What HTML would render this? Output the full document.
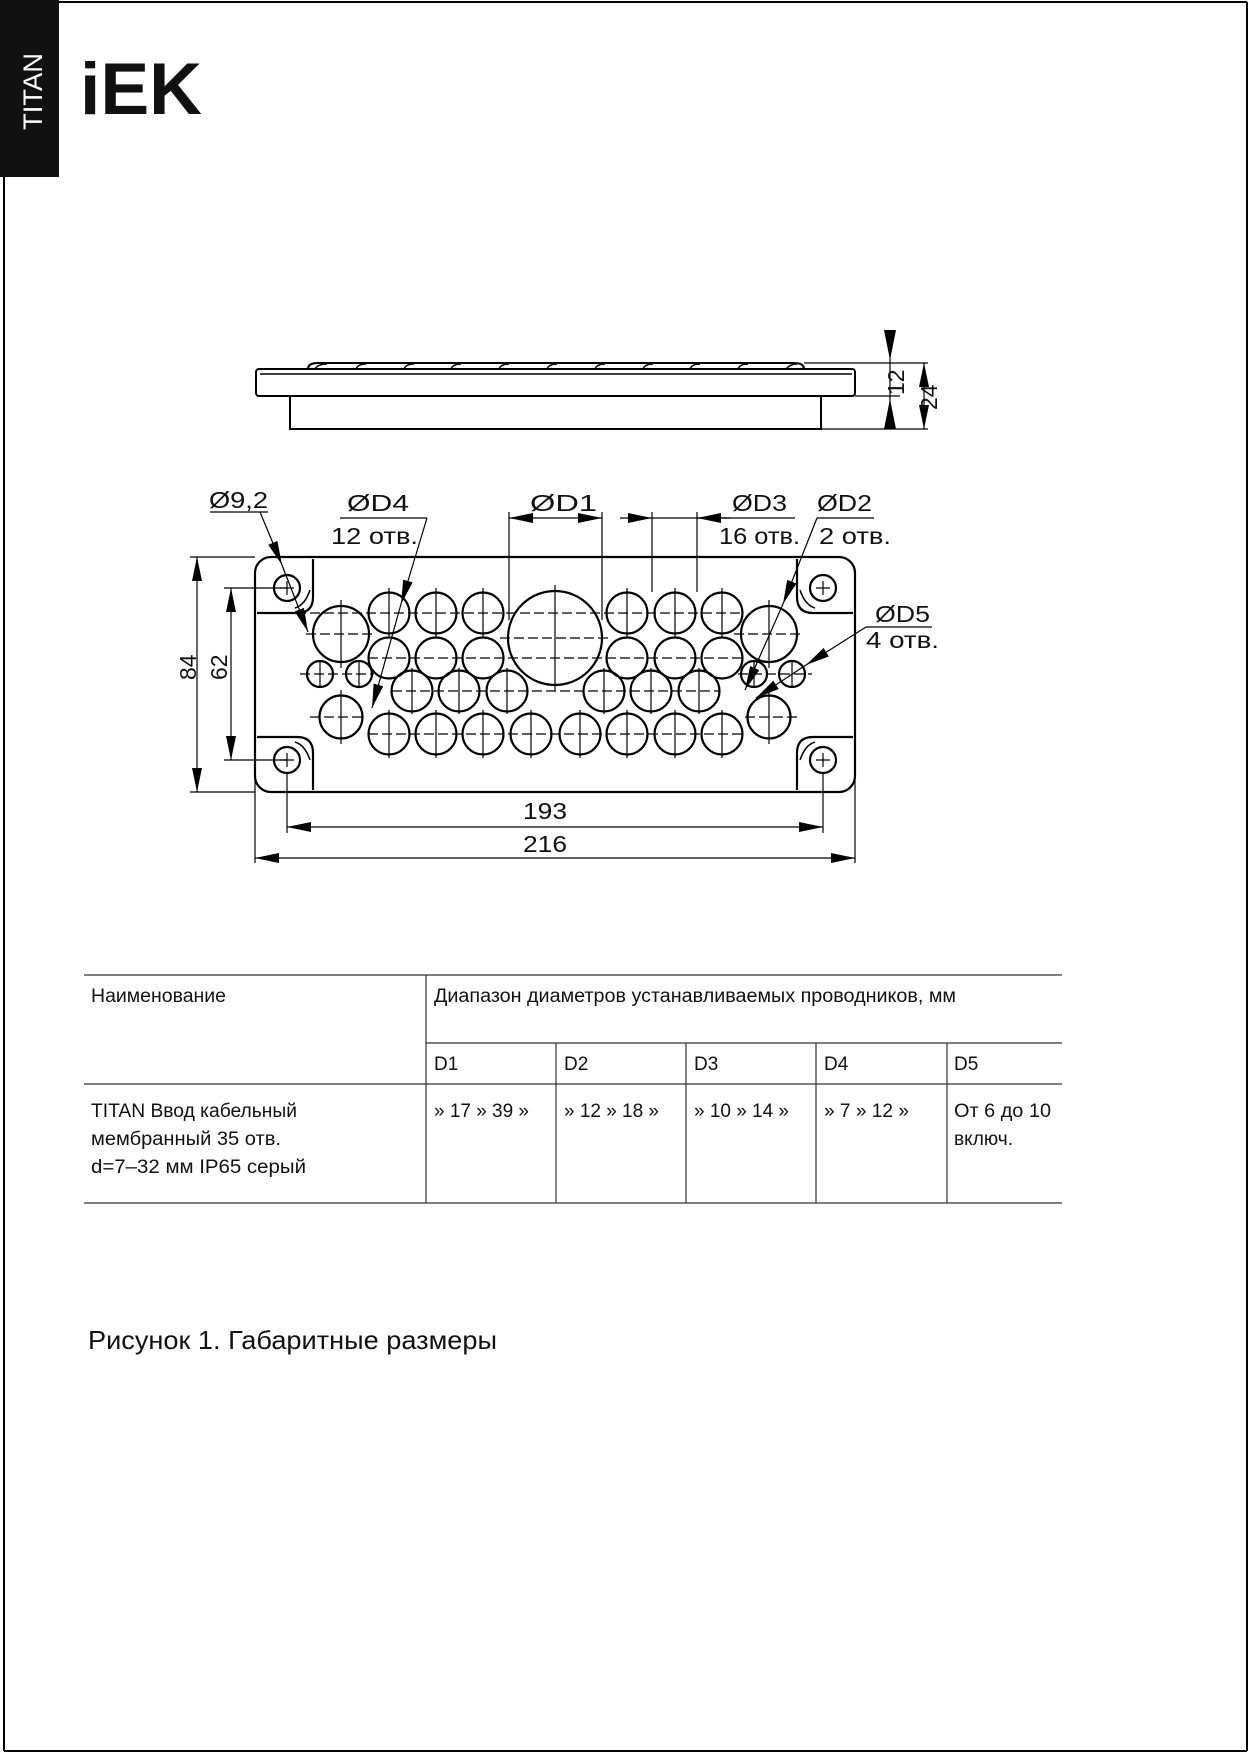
<!DOCTYPE html>
<html><head><meta charset="utf-8">
<style>
html,body{margin:0;padding:0;background:#fff}
svg{display:block}
text{font-family:"Liberation Sans",sans-serif;fill:#111}
</style></head>
<body>
<svg width="1249" height="1754" viewBox="0 0 1249 1754" xmlns="http://www.w3.org/2000/svg">
<defs>
<marker id="a" viewBox="0 0 24 10" refX="24" refY="5" markerWidth="24" markerHeight="10" markerUnits="userSpaceOnUse" orient="auto"><path d="M0,0 L24,5 L0,10 Z" fill="#000"/></marker>
<marker id="as" viewBox="0 0 24 10" refX="0" refY="5" markerWidth="24" markerHeight="10" markerUnits="userSpaceOnUse" orient="auto"><path d="M24,0 L0,5 L24,10 Z" fill="#000"/></marker>
</defs>
<rect x="0" y="0" width="59" height="177" fill="#111"/>
<text transform="translate(42,130) rotate(-90)" font-size="27" style="fill:#fff" textLength="77" lengthAdjust="spacingAndGlyphs">TITAN</text>
<line x1="59" y1="2" x2="1247" y2="2" stroke="#000" stroke-width="2"/>
<line x1="1247" y1="2" x2="1247" y2="1751" stroke="#000" stroke-width="2"/>
<line x1="4" y1="177" x2="4" y2="1751" stroke="#000" stroke-width="2"/>
<line x1="4" y1="1751" x2="1247" y2="1751" stroke="#000" stroke-width="2"/>
<text x="80" y="114" font-size="73" font-weight="bold" textLength="122" lengthAdjust="spacingAndGlyphs">iEK</text>

<g fill="none" stroke="#000" stroke-width="2">
<rect x="256" y="369" width="599" height="27" rx="3"/>
<line x1="260" y1="374" x2="852" y2="374" stroke-width="1.5"/>
<rect x="290" y="396" width="531" height="33"/>
<path d="M308 369 Q308 363 318 363 L794 363 Q804 363 804 369"/>
<g stroke-width="1.5">
<path d="M315 369 Q318 364 327 364"/><path d="M356 369 Q358 364 366 364"/><path d="M404 369 Q406 364 414 364"/><path d="M451 369 Q453 364 461 364"/><path d="M499 369 Q501 364 509 364"/><path d="M547 369 Q549 364 557 364"/><path d="M595 369 Q597 364 605 364"/><path d="M643 369 Q645 364 653 364"/><path d="M690 369 Q692 364 700 364"/><path d="M738 369 Q740 364 748 364"/><path d="M786 369 Q790 364 797 364"/>
</g>
<g stroke-width="1.2">
<line x1="804" y1="363" x2="928" y2="363"/><line x1="855" y1="396" x2="900" y2="396"/><line x1="821" y1="429" x2="928" y2="429"/>
<line x1="890" y1="330" x2="890" y2="429"/>
<line x1="924" y1="363" x2="924" y2="429" marker-start="url(#as)" marker-end="url(#a)"/>
</g>
<path d="M884 330 L896 330 L890 360 Z" fill="#000" stroke="none"/>
<path d="M884 429 L896 429 L890 399 Z" fill="#000" stroke="none"/>
</g>
<text transform="translate(904,395) rotate(-90)" font-size="23">12</text>
<text transform="translate(937,410) rotate(-90)" font-size="23">24</text>

<g fill="none" stroke="#000" stroke-width="2.2">
<rect x="255" y="557" width="600" height="235" rx="16"/>
<path d="M257 613 L297 613 Q313 613 313 597 L313 559"/>
<path d="M257 737 L297 737 Q313 737 313 753 L313 790"/>
<path d="M853 613 L813 613 Q797 613 797 597 L797 559"/>
<path d="M853 737 L813 737 Q797 737 797 753 L797 790"/>
<path d="M310 590 Q305 605 295 608" stroke-width="1.5"/>
<path d="M310 760 Q305 745 295 742" stroke-width="1.5"/>
<path d="M800 590 Q805 605 815 608" stroke-width="1.5"/>
<path d="M800 760 Q805 745 815 742" stroke-width="1.5"/>
</g>
<g fill="none" stroke="#000" stroke-width="2.2">
<circle cx="287" cy="588" r="13"/><circle cx="287" cy="760" r="13"/><circle cx="823" cy="588" r="13"/><circle cx="823" cy="760" r="13"/>
<circle cx="555" cy="638" r="47"/>
<circle cx="341" cy="634" r="28"/><circle cx="769" cy="634" r="28"/>
<circle cx="341" cy="717" r="21.5"/><circle cx="769" cy="717" r="21.5"/>
<circle cx="320" cy="674" r="13"/><circle cx="359" cy="674" r="13"/><circle cx="754" cy="674" r="13"/><circle cx="792" cy="674" r="13"/>
<circle cx="389" cy="613" r="20.5"/><circle cx="436" cy="613" r="20.5"/><circle cx="483" cy="613" r="20.5"/><circle cx="627" cy="613" r="20.5"/><circle cx="675" cy="613" r="20.5"/><circle cx="722" cy="613" r="20.5"/>
<circle cx="389" cy="658" r="20.5"/><circle cx="436" cy="658" r="20.5"/><circle cx="483" cy="658" r="20.5"/><circle cx="627" cy="658" r="20.5"/><circle cx="675" cy="658" r="20.5"/><circle cx="722" cy="658" r="20.5"/>
<circle cx="412" cy="691" r="20.5"/><circle cx="459" cy="691" r="20.5"/><circle cx="507" cy="691" r="20.5"/><circle cx="604" cy="691" r="20.5"/><circle cx="651" cy="691" r="20.5"/><circle cx="699" cy="691" r="20.5"/>
<circle cx="389" cy="734" r="20.5"/><circle cx="436" cy="734" r="20.5"/><circle cx="483" cy="734" r="20.5"/><circle cx="531" cy="734" r="20.5"/><circle cx="580" cy="734" r="20.5"/><circle cx="627" cy="734" r="20.5"/><circle cx="675" cy="734" r="20.5"/><circle cx="722" cy="734" r="20.5"/>
</g>
<g stroke="#000" stroke-width="1.2" stroke-dasharray="10,4">
<line x1="268" y1="613" x2="742" y2="613"/>
<line x1="306" y1="634" x2="376" y2="634"/><line x1="734" y1="634" x2="804" y2="634"/>
<line x1="368" y1="658" x2="742" y2="658"/>
<line x1="300" y1="674" x2="374" y2="674"/><line x1="738" y1="674" x2="812" y2="674"/>
<line x1="392" y1="691" x2="720" y2="691"/>
<line x1="310" y1="717" x2="365" y2="717"/><line x1="745" y1="717" x2="800" y2="717"/>
<line x1="368" y1="734" x2="742" y2="734"/>
<line x1="500" y1="638" x2="612" y2="638"/>
</g>
<g stroke="#000" stroke-width="1.2">
<path d="M280 588h14M287 581v14M280 760h14M287 753v14M816 588h14M823 581v14M816 760h14M823 753v14"/>
<path d="M389 588v50M436 588v50M483 588v50M627 588v50M675 588v50M722 588v50"/>
<path d="M389 710v48M436 710v48M483 710v48M531 710v48M580 710v48M627 710v48M675 710v48M722 710v48"/>
<path d="M412 668v46M459 668v46M507 668v46M604 668v46M651 668v46M699 668v46"/>
<path d="M555 585v106M341 600v68M769 600v68M341 690v54M769 690v54M320 660v28M359 660v28M754 660v28M792 660v28"/>
</g>
<g stroke="#000" stroke-width="1.2" fill="none">
<line x1="190" y1="557" x2="255" y2="557"/><line x1="190" y1="792" x2="255" y2="792"/>
<line x1="197" y1="557" x2="197" y2="792" marker-start="url(#as)" marker-end="url(#a)"/>
<line x1="224" y1="588" x2="287" y2="588"/><line x1="224" y1="760" x2="287" y2="760"/>
<line x1="231" y1="588" x2="231" y2="760" marker-start="url(#as)" marker-end="url(#a)"/>
<line x1="287" y1="773" x2="287" y2="833"/><line x1="823" y1="773" x2="823" y2="833"/>
<line x1="287" y1="827" x2="823" y2="827" marker-start="url(#as)" marker-end="url(#a)"/>
<line x1="255" y1="780" x2="255" y2="863"/><line x1="855" y1="780" x2="855" y2="863"/>
<line x1="255" y1="858" x2="855" y2="858" marker-start="url(#as)" marker-end="url(#a)"/>
<line x1="509" y1="512" x2="509" y2="620"/><line x1="602" y1="512" x2="602" y2="620"/>
<line x1="509" y1="518" x2="540" y2="518" marker-start="url(#as)"/>
<line x1="570" y1="518" x2="602" y2="518" marker-end="url(#a)"/>
<line x1="540" y1="518" x2="570" y2="518"/>
<line x1="652" y1="512" x2="652" y2="592"/><line x1="697" y1="512" x2="697" y2="592"/>
<line x1="620" y1="518" x2="652" y2="518" marker-end="url(#a)"/>
<line x1="730" y1="518" x2="697" y2="518" marker-end="url(#a)"/>
<line x1="652" y1="518" x2="795" y2="518"/>
<line x1="210" y1="512" x2="268" y2="512"/>
<line x1="260" y1="512" x2="282" y2="565" marker-end="url(#a)"/>
<line x1="282" y1="565" x2="308" y2="632" marker-end="url(#a)"/>
<line x1="340" y1="518" x2="427" y2="518"/>
<line x1="427" y1="518" x2="401" y2="604" marker-end="url(#a)"/>
<line x1="401" y1="604" x2="372" y2="708" marker-end="url(#a)"/>
<line x1="817" y1="518" x2="874" y2="518"/>
<line x1="817" y1="518" x2="783" y2="604" marker-end="url(#a)"/>
<line x1="783" y1="604" x2="745" y2="690" marker-end="url(#a)"/>
<line x1="866" y1="627" x2="932" y2="627"/>
<line x1="866" y1="627" x2="806" y2="665" marker-end="url(#a)"/>
<line x1="806" y1="665" x2="756" y2="698" marker-end="url(#a)"/>
</g>
<g font-size="23">
<text x="209" y="508" textLength="59" lengthAdjust="spacingAndGlyphs">Ø9,2</text>
<text x="347" y="511" textLength="62" lengthAdjust="spacingAndGlyphs">ØD4</text>
<text x="331" y="544" textLength="87" lengthAdjust="spacingAndGlyphs">12 отв.</text>
<text x="530" y="511" textLength="67" lengthAdjust="spacingAndGlyphs">ØD1</text>
<text x="732" y="511" textLength="55" lengthAdjust="spacingAndGlyphs">ØD3</text>
<text x="817" y="511" textLength="55" lengthAdjust="spacingAndGlyphs">ØD2</text>
<text x="719" y="544" textLength="81" lengthAdjust="spacingAndGlyphs">16 отв.</text>
<text x="819" y="544" textLength="72" lengthAdjust="spacingAndGlyphs">2 отв.</text>
<text x="875" y="622" textLength="55" lengthAdjust="spacingAndGlyphs">ØD5</text>
<text x="866" y="648" textLength="73" lengthAdjust="spacingAndGlyphs">4 отв.</text>
<text x="523" y="819" textLength="44" lengthAdjust="spacingAndGlyphs">193</text>
<text x="523" y="852" textLength="44" lengthAdjust="spacingAndGlyphs">216</text>
<text transform="translate(196,680) rotate(-90)">84</text>
<text transform="translate(227,680) rotate(-90)">62</text>
</g>

<g stroke="#333" stroke-width="1.2">
<line x1="84" y1="975" x2="1062" y2="975"/>
<line x1="426" y1="1043" x2="1062" y2="1043"/>
<line x1="84" y1="1084" x2="1062" y2="1084"/>
<line x1="84" y1="1203" x2="1062" y2="1203"/>
<line x1="426" y1="975" x2="426" y2="1203"/>
<line x1="556" y1="1043" x2="556" y2="1203"/><line x1="686" y1="1043" x2="686" y2="1203"/><line x1="816" y1="1043" x2="816" y2="1203"/><line x1="947" y1="1043" x2="947" y2="1203"/>
</g>
<g font-size="19">
<text x="91" y="1002" textLength="135" lengthAdjust="spacingAndGlyphs">Наименование</text>
<text x="434" y="1002" textLength="522" lengthAdjust="spacingAndGlyphs">Диапазон диаметров устанавливаемых проводников, мм</text>
<text x="434" y="1070">D1</text><text x="564" y="1070">D2</text><text x="694" y="1070">D3</text><text x="824" y="1070">D4</text><text x="954" y="1070">D5</text>
<text x="91" y="1117" textLength="206" lengthAdjust="spacingAndGlyphs">TITAN Ввод кабельный</text>
<text x="91" y="1145" textLength="190" lengthAdjust="spacingAndGlyphs">мембранный 35 отв.</text>
<text x="91" y="1173" textLength="215" lengthAdjust="spacingAndGlyphs">d=7–32 мм IP65 серый</text>
<text x="434" y="1117" textLength="95" lengthAdjust="spacingAndGlyphs">» 17 » 39 »</text>
<text x="564" y="1117" textLength="95" lengthAdjust="spacingAndGlyphs">» 12 » 18 »</text>
<text x="694" y="1117" textLength="95" lengthAdjust="spacingAndGlyphs">» 10 » 14 »</text>
<text x="824" y="1117" textLength="85" lengthAdjust="spacingAndGlyphs">» 7 » 12 »</text>
<text x="954" y="1117" textLength="97" lengthAdjust="spacingAndGlyphs">От 6 до 10</text>
<text x="954" y="1145" textLength="59" lengthAdjust="spacingAndGlyphs">включ.</text>
</g>
<text x="88" y="1349" font-size="26" textLength="409" lengthAdjust="spacingAndGlyphs">Рисунок 1. Габаритные размеры</text>
</svg>
</body></html>
